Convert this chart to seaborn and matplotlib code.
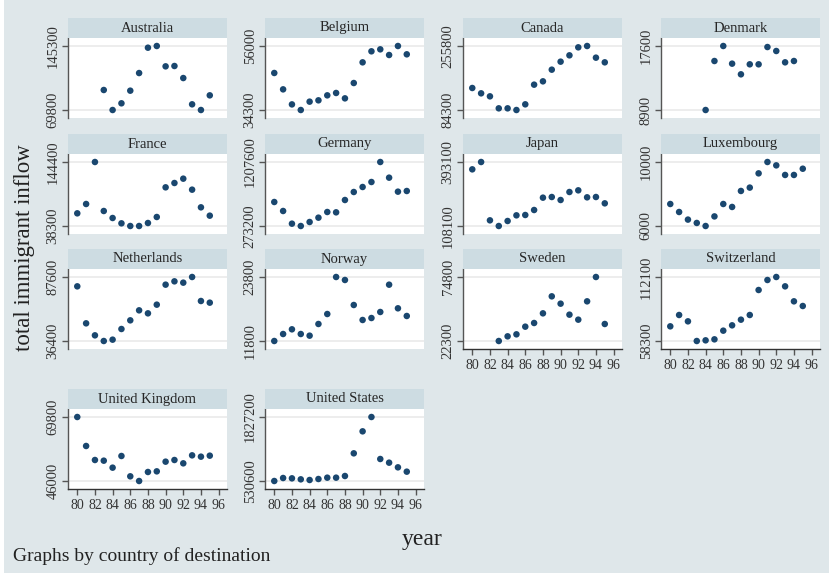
import numpy as np
import pandas as pd
import seaborn as sns
import matplotlib.pyplot as plt

nan = np.nan
years = list(range(80, 96))

countries = ['Australia', 'Belgium', 'Canada', 'Denmark',
             'France', 'Germany', 'Japan', 'Luxembourg',
             'Netherlands', 'Norway', 'Sweden', 'Switzerland',
             'United Kingdom', 'United States']

# total immigrant inflow by year (1980-1995)
australia = [nan, nan, nan, 93400, 69800, 77700, 92600, 113400, 143300, 145300,
             121300, 121700, 107500, 76500, 69800, 87100]
belgium = [46850, 41300, 36200, 34300, 37130, 37580, 39270, 40070, 38250, 43450,
           50460, 54200, 54870, 52950, 56000, 53180]
canada = [143250, 128960, 120920, 88770, 88770, 84300, 99490, 152190, 161120, 192380,
          213820, 230790, 252230, 255800, 224540, 212030]
denmark = [nan, nan, nan, nan, 8900, 15560, 17600, 15200, 13750, 15110,
           15110, 17460, 16920, 15380, 15560, nan]
france = [59300, 74770, 144400, 63170, 51560, 42720, 38300, 38300, 43270, 53220,
          102400, 109590, 116770, 98530, 69250, 55430]
germany = [623600, 492200, 307300, 273200, 331600, 394900, 477600, 472700, 652800, 769600,
           842600, 915600, 1207600, 978900, 774500, 784200]
japan = [360400, 393100, 133300, 108100, 130400, 155600, 157100, 179350, 234300, 237200,
         223900, 259500, 266900, 235800, 237200, 209000]
luxembourg = [7375, 6875, 6400, 6190, 6000, 6600, 7375, 7190, 8190, 8400,
              9290, 10000, 9790, 9190, 9190, 9580]
netherlands = [80130, 50530, 40930, 36400, 37470, 46000, 52930, 60930, 58530, 65470,
               81470, 84130, 83070, 87600, 68400, 67070]
norway = [11800, 13110, 13990, 13110, 12800, 14990, 16860, 23800, 23240, 18550,
          15740, 16110, 17240, 22360, 17930, 16490]
sweden = [nan, nan, nan, 22300, 26130, 27770, 34060, 37070, 44990, 58940,
          52920, 43900, 39800, 54840, 74800, 36250]
switzerland = [70630, 80160, 74830, 58300, 58860, 59700, 66990, 71470, 76230, 80160,
               101170, 109580, 112100, 104250, 91650, 87720]
united_kingdom = [69800, 59020, 53810, 53560, 50960, 55300, 47740, 46000, 49350, 49590,
                  53190, 53810, 52570, 55540, 55050, 55420]
united_states = [530600, 591400, 584600, 564400, 550900, 571100, 598100, 598100, 631900, 1091100,
                 1536800, 1827200, 976300, 902000, 807500, 719700]

series = [australia, belgium, canada, denmark, france, germany, japan, luxembourg,
          netherlands, norway, sweden, switzerland, united_kingdom, united_states]

rows = []
for name, vals in zip(countries, series):
    for yr, v in zip(years, vals):
        rows.append({'country': name, 'year': yr, 'inflow': v})
df = pd.DataFrame(rows).dropna()

sns.set_theme(style='white')
plt.rcParams['font.family'] = ['Liberation Serif', 'DejaVu Serif']

W, H = 833, 576
fig = plt.figure(figsize=(W / 100, H / 100), dpi=100, facecolor='white')
# bluish graph region (behind all axes)
bg = fig.add_axes([4 / W, 3 / H, 825 / W, 573 / H], zorder=-10)
bg.set_facecolor('#dfe7ea')
bg.set_xticks([])
bg.set_yticks([])
for s in bg.spines.values():
    s.set_visible(False)

bg_strip = '#cddce2'
navy = '#1a476f'
tick_col = '#333333'
col_left = [68, 265, 463, 661]
row_top = [18, 134, 249, 389]

for i, name in enumerate(countries):
    r, c = divmod(i, 4)
    x0 = col_left[c]
    top = row_top[r]
    ax = fig.add_axes([x0 / W, 1 - (top + 100) / H, 159 / W, 80 / H])
    sax = fig.add_axes([x0 / W, 1 - (top + 20) / H, 159 / W, 20 / H])
    sax.set_facecolor(bg_strip)
    sax.set_xticks([])
    sax.set_yticks([])
    for s in sax.spines.values():
        s.set_visible(False)
    sax.text(0.5, 0.5, name, ha='center', va='center', fontsize=10.5,
             color='#262626', transform=sax.transAxes)

    sub = df[df['country'] == name]
    lo, hi = sub['inflow'].min(), sub['inflow'].max()
    span = hi - lo
    for yv in (lo, hi):
        ax.axhline(yv, color='#ececec', lw=1.3, zorder=0)
    sns.scatterplot(data=sub, x='year', y='inflow', ax=ax, color=navy, s=22,
                    edgecolor='none', zorder=3, legend=False)
    ax.set_facecolor('white')
    ax.set_xlim(78.95, 96.95)
    ax.set_ylim(lo - 0.125 * span, hi + 0.125 * span)
    ax.set_xlabel('')
    ax.set_ylabel('')
    ax.set_yticks([lo, hi])
    ax.set_yticklabels([f'{int(round(lo))}', f'{int(round(hi))}'], rotation=90,
                       va='center', fontsize=10.5, color=tick_col)
    ax.tick_params(axis='y', left=True, length=4, width=1, color='#555555', pad=2)
    for s in ('top', 'right'):
        ax.spines[s].set_visible(False)
    ax.spines['left'].set_color('#555555')
    ax.spines['left'].set_linewidth(1)
    bottom_panel = (r == 3) or (r == 2 and c >= 2)
    if bottom_panel:
        ax.spines['bottom'].set_color('#333333')
        ax.spines['bottom'].set_linewidth(1)
        ax.set_xticks(range(80, 97, 2))
        ax.set_xticklabels([str(v) for v in range(80, 97, 2)], fontsize=10, color=tick_col)
        ax.tick_params(axis='x', bottom=True, length=4, width=1, color='#555555', pad=3)
    else:
        ax.spines['bottom'].set_visible(False)
        ax.set_xticks([])

fig.text(25 / W, 1 - 248 / H, 'total immigrant inflow', rotation=90, ha='center',
         va='center', fontsize=16.5, color='#222222')
fig.text(422 / W, 1 - 540 / H, 'year', ha='center', va='center', fontsize=17,
         color='#222222')
fig.text(13 / W, 1 - 556 / H, 'Graphs by country of destination', ha='left',
         va='center', fontsize=14, color='#222222')

fig.savefig('out.png', dpi=100, facecolor=fig.get_facecolor())
